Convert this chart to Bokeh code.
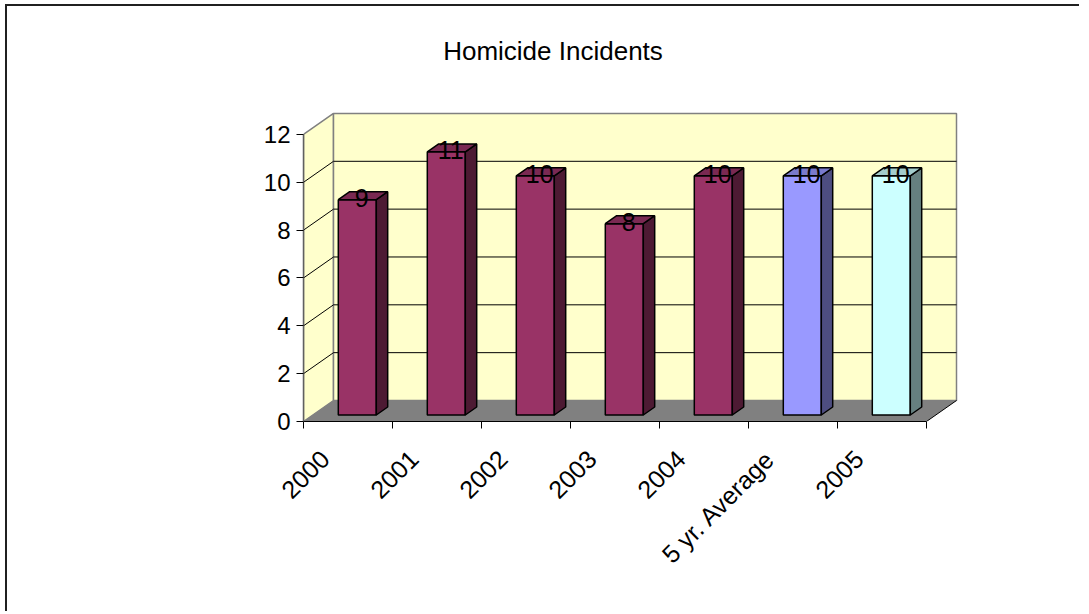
from bokeh.plotting import figure
from bokeh.models import Range1d, FixedTicker, CustomJSTickFormatter
from bokeh.core.properties import value
from bokeh.embed import file_html
from bokeh.resources import INLINE

# ---- data ----
categories = ["2000", "2001", "2002", "2003", "2004", "5 yr. Average", "2005"]
incidents = [9, 11, 10, 8, 10, 10, 10]
front_colors = ["#993366", "#993366", "#993366", "#993366", "#993366", "#9999FF", "#CCFFFF"]
side_colors = ["#4D1A33", "#4D1A33", "#4D1A33", "#4D1A33", "#4D1A33", "#4D4D80", "#668080"]
top_colors = ["#7A2952", "#7A2952", "#7A2952", "#7A2952", "#7A2952", "#7A7ACC", "#A3CCCC"]
y_ticks = [0, 2, 4, 6, 8, 10, 12]
y_max = 12
title_text = "Homicide Incidents"

# ---- layout constants ----
OX, OY = 7, 6            # canvas origin on page
W, H = 1089 - OX - 2, 614 - OY - 1
RB = 40                  # right border
PX_X = 89.0
PX_Y = 23.92
FRAME_L = 303 - OX
FRAME_B = 421 - OY
DX = 30 / PX_X      # depth offset (data units)
DY = 21 / PX_Y
F1 = 0.31           # bar front depth fraction
FD = 0.38           # bar depth fraction
BW = 0.427          # bar width
FONT = "Liberation Sans"
n = len(categories)

p = figure(width=W, height=H,
           x_range=Range1d(0, (W - FRAME_L - RB) / PX_X),
           y_range=Range1d(0, FRAME_B / PX_Y),
           output_backend="svg", toolbar_location=None,
           min_border_left=FRAME_L, min_border_right=RB,
           min_border_top=0, min_border_bottom=H - FRAME_B)
p.margin = (OY, 0, 0, OX)
p.styles = {"box-shadow": "-2px -2px 0px 0px #202020",
            "clip-path": "inset(-4px 8px -4px -4px)"}
p.grid.visible = False
p.outline_line_color = None
p.background_fill_color = "white"
p.border_fill_color = "white"

# walls
p.patch([0, DX, DX, 0], [0, DY, y_max + DY, y_max], fill_color="#FFFFCC",
        line_color="#808080", line_width=1.5)
p.patch([DX, n + DX, n + DX, DX], [DY, DY, y_max + DY, y_max + DY],
        fill_color="#FFFFCC", line_color="#808080", line_width=1.5)
# floor
p.patch([0, n, n + DX, DX], [0, 0, DY, DY], fill_color="#808080", line_color=None)
p.line([n, n + DX], [0, DY], line_color="black", line_width=1)

# gridlines
for v in y_ticks[1:-1]:
    p.line([DX, n + DX], [v + DY, v + DY], line_color="black", line_width=1)
    p.line([0, DX], [v, v + DY], line_color="black", line_width=1)

# bars
fx, fy, sx, sy, tx, ty = [], [], [], [], [], []
lx, ly = [], []
for i, v in enumerate(incidents):
    x0 = i + 0.5 - BW / 2 + F1 * DX
    x1 = x0 + BW
    yb = F1 * DY
    yt = v + F1 * DY
    ddx, ddy = FD * DX, FD * DY
    fx.append([x0, x1, x1, x0]); fy.append([yb, yb, yt, yt])
    sx.append([x1, x1 + ddx, x1 + ddx, x1]); sy.append([yb, yb + ddy, yt + ddy, yt])
    tx.append([x0, x1, x1 + ddx, x0 + ddx]); ty.append([yt, yt, yt + ddy, yt + ddy])
    lx.append(i + 0.5 + F1 * DX + 0.05)
    ly.append(yt)

p.patches(fx, fy, fill_color=front_colors, line_color="black", line_width=1.5)
p.patches(sx, sy, fill_color=side_colors, line_color="black", line_width=1.5)
p.patches(tx, ty, fill_color=top_colors, line_color="black", line_width=1.5)

p.text(x=lx, y=ly, text=[str(v) for v in incidents], text_font=value(FONT),
       text_font_size="25px", text_align="center", text_baseline="alphabetic",
       y_offset=-2, text_color="black")

# title
p.text(x=[(552.5 - 303) / PX_X], y=[(421 - 50) / PX_Y], text=[title_text],
       text_font=value(FONT), text_font_size="26px", text_align="center",
       text_baseline="alphabetic", text_color="black")

# y axis
ya = p.yaxis[0]
ya.ticker = FixedTicker(ticks=y_ticks, minor_ticks=[])
ya.bounds = (0, y_max)
ya.axis_line_color = "#606060"
ya.axis_line_width = 1.5
ya.major_tick_in = 0
ya.major_tick_out = 7
ya.major_tick_line_color = "black"
ya.minor_tick_line_color = None
ya.major_label_text_font = FONT
ya.major_label_text_font_size = "24px"
ya.major_label_text_color = "black"
ya.major_label_standoff = 6

# x axis
xa = p.xaxis[0]
xa.ticker = FixedTicker(ticks=[i + 0.24 for i in range(n)], minor_ticks=list(range(n + 1)))
xa.formatter = CustomJSTickFormatter(args=dict(labels=categories), code="return labels[index];")
xa.bounds = (0, n)
xa.axis_line_color = "black"
xa.axis_line_width = 1
xa.major_tick_in = 0
xa.major_tick_out = 0
xa.minor_tick_in = 0
xa.minor_tick_out = 7
xa.minor_tick_line_color = "black"
xa.major_label_orientation = 0.785398
xa.major_label_text_font = FONT
xa.major_label_text_font_size = "25px"
xa.major_label_text_color = "black"
xa.major_label_standoff = 26

open("out.html", "w").write(file_html(p, INLINE))
